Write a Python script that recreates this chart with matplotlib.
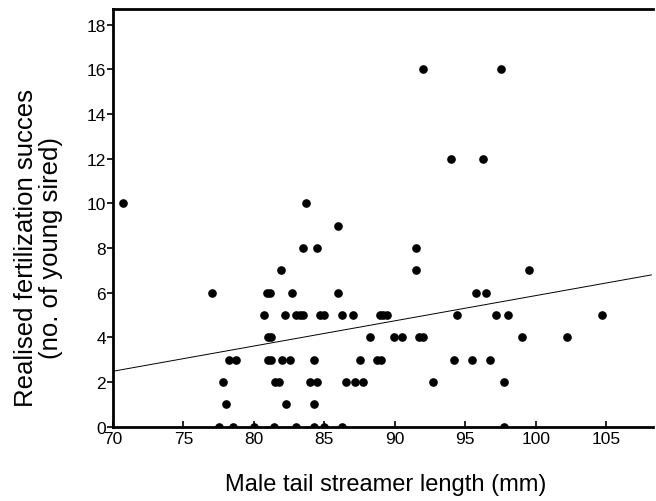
import matplotlib
matplotlib.use("Agg")
import matplotlib.pyplot as plt
import numpy as np

plt.rcParams['font.family'] = ['Liberation Sans', 'DejaVu Sans']

# Data
tail_length = [
    92.0, 97.5,
    94.0, 96.25,
    70.7, 83.7,
    85.95,
    83.5, 84.5, 91.5,
    81.95, 91.5, 99.5,
    77.0, 80.93, 81.17, 82.73, 85.95, 95.75, 96.5,
    80.7, 82.23, 83.0, 83.3, 83.5, 84.72, 85.0, 86.24, 87.0, 88.94, 89.18, 89.47, 94.44, 97.2, 98.0, 104.7,
    80.98, 81.2, 88.23, 89.94, 90.48, 91.72, 92.0, 99.0, 102.25,
    78.2, 78.7, 80.98, 81.2, 81.97, 82.54, 84.25, 87.5, 88.75, 88.99, 94.2, 95.46, 96.75,
    77.8, 81.52, 81.76, 83.96, 84.5, 86.5, 87.2, 87.75, 92.74, 97.75,
    78.0, 82.26, 84.25,
    77.5, 78.5, 80.0, 81.45, 83.0, 84.25, 85.0, 86.26, 97.75,
]
young_sired = (
    [16] * 2 + [12] * 2 + [10] * 2 + [9] * 1 + [8] * 3 + [7] * 3 + [6] * 7 +
    [5] * 16 + [4] * 9 + [3] * 13 + [2] * 10 + [1] * 3 + [0] * 9
)

# Regression line
line_x = [70.0, 108.2]
fit_slope = 0.1129
fit_intercept = -5.42

x_ticks = [70, 75, 80, 85, 90, 95, 100, 105]
y_ticks = [0, 2, 4, 6, 8, 10, 12, 14, 16, 18]

fig = plt.figure(figsize=(6.56, 5.02), dpi=100)
ax = fig.add_axes([0.1723, 0.148, 0.8227, 0.832])

ax.plot(tail_length, young_sired, 'o', color='black', markersize=5.2, clip_on=True, zorder=3)
lx = np.array(line_x)
ax.plot(lx, fit_intercept + fit_slope * lx, color='black', linewidth=0.7)

ax.set_xlim(70, 108.3)
ax.set_ylim(0, 18.7)
ax.set_xticks(x_ticks)
ax.set_yticks(y_ticks)
ax.tick_params(axis='x', direction='in', length=4, width=1.2, labelsize=12.5, pad=3)
ax.tick_params(axis='y', direction='out', length=4, width=1.2, labelsize=12.5, pad=1)

for s in ['left', 'bottom', 'top']:
    ax.spines[s].set_linewidth(2)
ax.spines['right'].set_visible(False)

ax.set_xlabel('Male tail streamer length (mm)', fontsize=17)
ax.xaxis.set_label_coords(0.505, -0.11)
ax.set_ylabel('Realised fertilization succes\n(no. of young sired)', fontsize=18.5,
              linespacing=1.05)
ax.yaxis.set_label_coords(-0.093, 0.43)

fig.savefig('out.png', dpi=100)
